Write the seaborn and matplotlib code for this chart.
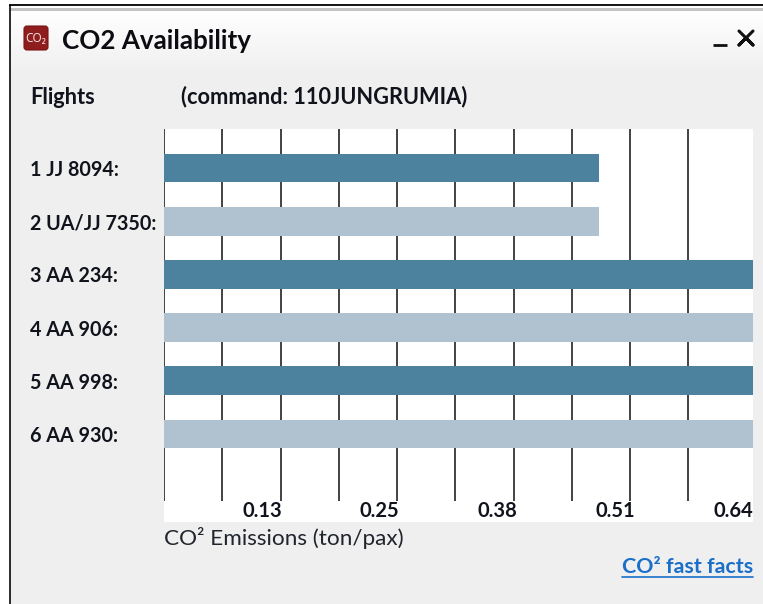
import numpy as np
import pandas as pd
import matplotlib
matplotlib.use("Agg")
import matplotlib.pyplot as plt
import seaborn as sns

flights = ["1 JJ 8094:", "2 UA/JJ 7350:", "3 AA 234:", "4 AA 906:", "5 AA 998:", "6 AA 930:"]
emissions = [0.473, 0.473, 0.64, 0.64, 0.64, 0.64]
bar_colors = ["#4c829e", "#b0c1d0", "#4c829e", "#b0c1d0", "#4c829e", "#b0c1d0"]
tick_values = [0.128, 0.256, 0.384, 0.512, 0.64]
tick_labels = ["0.13", "0.25", "0.38", "0.51", "0.64"]
grid_values = [0.0, 0.0633, 0.1266, 0.1899, 0.2532, 0.3165, 0.3798, 0.4431, 0.5064, 0.5697]

W, H = 763, 604
sns.set_theme(style="white")
plt.rcParams["font.family"] = ["Lato", "DejaVu Sans"]
fig = plt.figure(figsize=(W / 100, H / 100), dpi=100, facecolor="white")

# window chrome, in pixel coordinates
bg = fig.add_axes([0, 0, 1, 1], zorder=0)
bg.set_xlim(0, W); bg.set_ylim(H, 0); bg.axis("off")
grad = np.linspace(1.0, 0.0, 64).reshape(-1, 1)
top, bottom = np.array([1, 1, 1]), np.array([0xef, 0xef, 0xef]) / 255
img = (grad[..., None] * top + (1 - grad[..., None]) * bottom)
bg.imshow(img, extent=(10, W, 75, 11), aspect="auto", zorder=1)
bg.add_patch(plt.Rectangle((10, 75), W - 10, H - 75, color="#efefef", lw=0, zorder=1))
bg.add_patch(plt.Rectangle((10, 8), W - 10, 3, color="#c4c4c4", lw=0, zorder=2))
bg.plot([9.5, 9.5], [5, H], color="#1a1a1a", lw=1.3, zorder=3, solid_capstyle="butt")
bg.plot([9, W], [5, 5], color="#000000", lw=1.3, zorder=3, solid_capstyle="butt")
bg.set_xlim(0, W); bg.set_ylim(H, 0)
bg.add_patch(matplotlib.patches.FancyBboxPatch((24, 26), 24, 24, boxstyle="round,pad=0,rounding_size=3",
                                               fc="#8f1d1d", ec="#7a1515", lw=0.8, zorder=3))
bg.text(36, 38, "CO₂", color="#f2dede", fontsize=8.5, fontweight="bold", ha="center", va="center",
        family=["Noto Sans", "DejaVu Sans"], zorder=4)
bg.text(62, 41, "CO2 Availability", fontsize=18.7, fontweight="bold", color="#0b0b12", ha="left", va="center", zorder=4)
bg.text(30, 97.5, "Flights", fontsize=15.7, fontweight="bold", color="#10131c", ha="left", va="center", zorder=4)
bg.text(181, 96.5, "(command: 110JUNGRUMIA)", fontsize=15.7, fontweight="bold", color="#10131c", ha="left", va="center", zorder=4)
bg.plot([713, 727], [45, 45], color="#111111", lw=2, zorder=4, solid_capstyle="butt")
bg.plot([739, 753, 746, 739, 753], [31, 45, 38, 45, 31], color="#111111", lw=2.2, zorder=4)
bg.text(164, 538, "CO² Emissions (ton/pax)", fontsize=16.2, color="#20242c", ha="left", va="center", zorder=4)
bg.text(753, 567, "CO² fast facts", fontsize=15.4, fontweight="bold", color="#1a6fc9", ha="right", va="center", zorder=4)
bg.plot([622, 753], [577, 577], color="#1a6fc9", lw=1.2, zorder=4)

# chart
x0, x1, y0, y1 = 164, 753, 129, 522
ax = fig.add_axes([x0 / W, 1 - y1 / H, (x1 - x0) / W, (y1 - y0) / H], zorder=1, facecolor="white")
df = pd.DataFrame({"flight": flights, "co2": emissions})
sns.barplot(data=df, y="flight", x="co2", hue="flight", palette=bar_colors, orient="h",
            width=0.545, legend=False, dodge=False, saturation=1, linewidth=0, ax=ax, zorder=3)
ax.set_xlim(0, 0.64)
ax.set_ylim((y1 - 168) / 53.2, (y0 - 168) / 53.2)
ax.vlines(grid_values, (y1 - 501) / (y1 - y0), 1, transform=ax.get_xaxis_transform(),
          color="#222222", lw=1.2, zorder=2)
ax.set_xticks(tick_values)
ax.set_xticklabels(tick_labels, ha="right", fontsize=14.5, fontweight="bold", color="#10131c")
ax.tick_params(axis="x", length=0, pad=-15, direction="in")
ax.set_yticks(range(len(flights)))
ax.set_yticklabels(flights, ha="left", fontsize=14.2, fontweight="bold", color="#10131c")
ax.tick_params(axis="y", length=0, pad=96.5)
ax.set_xlabel(""); ax.set_ylabel("")
sns.despine(ax=ax, left=True, bottom=True)
fig.savefig("out.png", dpi=100)
